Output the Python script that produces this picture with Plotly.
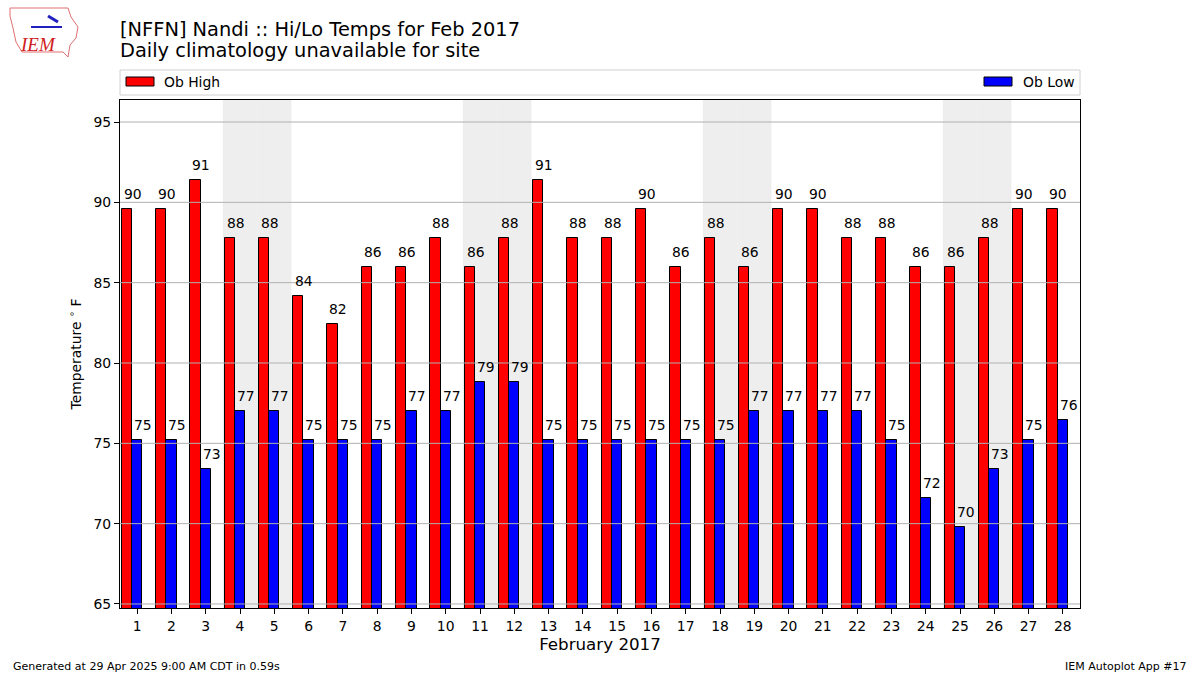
import plotly.graph_objects as go

# ---- data ----
days = list(range(1, 29))
ob_high = [89.6, 89.6, 91.4, 87.8, 87.8, 84.2, 82.4, 86.0, 86.0, 87.8,
           86.0, 87.8, 91.4, 87.8, 87.8, 89.6, 86.0, 87.8, 86.0, 89.6,
           89.6, 87.8, 87.8, 86.0, 86.0, 87.8, 89.6, 89.6]
ob_low = [75.2, 75.2, 73.4, 77.0, 77.0, 75.2, 75.2, 75.2, 77.0, 77.0,
          78.8, 78.8, 75.2, 75.2, 75.2, 75.2, 75.2, 75.2, 77.0, 77.0,
          77.0, 77.0, 75.2, 71.6, 69.8, 73.4, 75.2, 76.46]
weekend_days = [4, 5, 11, 12, 18, 19, 25, 26]
y_ticks = [65, 70, 75, 80, 85, 90, 95]
title_lines = ["[NFFN] Nandi :: Hi/Lo Temps for Feb 2017",
               "Daily climatology unavailable for site"]

FONT = "DejaVu Sans"
W, H = 1200, 675
L, R, T, B = 120, 1080, 100, 608


def px(x):
    return (x - L) / (R - L)


def py(y):
    return (B - y) / (B - T)


fig = go.Figure()
fig.add_trace(go.Bar(x=days, y=ob_high, width=0.3, offset=-0.45,
                     marker=dict(color="#ff0000", line=dict(color="black", width=1)),
                     name="Ob High", showlegend=False))
fig.add_trace(go.Bar(x=days, y=ob_low, width=0.3, offset=-0.15,
                     marker=dict(color="#0000ff", line=dict(color="black", width=1)),
                     name="Ob Low", showlegend=False))

shapes = []
annotations = []
# weekend shading
for d in weekend_days:
    shapes.append(dict(type="rect", xref="x", yref="paper", x0=d - 0.5, x1=d + 0.5,
                       y0=0, y1=1, fillcolor="#eeeeee", line=dict(width=0), layer="below"))
# gridlines above bars
for t in y_ticks:
    shapes.append(dict(type="line", xref="paper", yref="y", x0=0, x1=1, y0=t, y1=t,
                       line=dict(color="#b0b0b0", width=1), layer="above"))

# value labels
for d, h, lo in zip(days, ob_high, ob_low):
    annotations.append(dict(x=d - 0.45, y=h, xref="x", yref="y", text=f"{h:.0f}",
                            showarrow=False, xanchor="left", yanchor="bottom", yshift=5,
                            font=dict(family=FONT, size=13.9, color="black")))
    annotations.append(dict(x=d - 0.15, y=lo, xref="x", yref="y", text=f"{lo:.0f}",
                            showarrow=False, xanchor="left", yanchor="bottom", yshift=5,
                            font=dict(family=FONT, size=13.9, color="black")))

# legend box
shapes.append(dict(type="rect", xref="paper", yref="paper", x0=0, x1=1,
                   y0=py(95), y1=py(70), fillcolor="white",
                   line=dict(color="#d0d0d0", width=1), layer="above"))
shapes.append(dict(type="rect", xref="paper", yref="paper", x0=px(126), x1=px(154),
                   y0=py(86), y1=py(77), fillcolor="#ff0000",
                   line=dict(color="black", width=1), layer="above"))
shapes.append(dict(type="rect", xref="paper", yref="paper", x0=px(984), x1=px(1012),
                   y0=py(86), y1=py(77), fillcolor="#0000ff",
                   line=dict(color="black", width=1), layer="above"))
annotations.append(dict(x=px(162), y=py(81.5), xref="paper", yref="paper", text="Ob High",
                        showarrow=False, xanchor="left", yanchor="middle",
                        font=dict(family=FONT, size=13.9, color="black")))
annotations.append(dict(x=px(1021), y=py(81.5), xref="paper", yref="paper", text="Ob Low",
                        showarrow=False, xanchor="left", yanchor="middle",
                        font=dict(family=FONT, size=13.9, color="black")))

# title (two lines)
for line_text, yc in zip(title_lines, [29, 50.5]):
    annotations.append(dict(x=px(118), y=py(yc), xref="paper", yref="paper",
                            text=line_text, showarrow=False, xanchor="left", yanchor="middle",
                            font=dict(family=FONT, size=19.4, color="black")))
# footer
annotations.append(dict(x=px(11), y=py(666), xref="paper", yref="paper",
                        text="Generated at 29 Apr 2025 9:00 AM CDT in 0.59s",
                        showarrow=False, xanchor="left", yanchor="middle",
                        font=dict(family=FONT, size=11, color="black")))
annotations.append(dict(x=px(1189), y=py(666), xref="paper", yref="paper",
                        text="IEM Autoplot App #17",
                        showarrow=False, xanchor="right", yanchor="middle",
                        font=dict(family=FONT, size=11, color="black")))
# logo approximation
logo_pts = [(10, 8), (68, 8), (71, 17), (78, 27), (76, 38), (70, 45), (68, 57),
            (63, 52), (22, 52), (16, 42), (13, 28), (10, 16)]
path = "M " + " L ".join(f"{px(x)},{py(y)}" for x, y in logo_pts) + " Z"
shapes.append(dict(type="path", xref="paper", yref="paper", path=path,
                   line=dict(color="#e07070", width=1), fillcolor="rgba(0,0,0,0)"))
shapes.append(dict(type="line", xref="paper", yref="paper", x0=px(31), x1=px(62),
                   y0=py(27), y1=py(27), line=dict(color="#2020c0", width=2)))
shapes.append(dict(type="line", xref="paper", yref="paper", x0=px(48), x1=px(58),
                   y0=py(16), y1=py(22), line=dict(color="#2020c0", width=3)))
annotations.append(dict(x=px(38), y=py(45), xref="paper", yref="paper",
                        text="<i>IEM</i>", showarrow=False, xanchor="center", yanchor="middle",
                        font=dict(family="Liberation Serif", size=19, color="#d02020")))

fig.update_layout(
    width=W, height=H,
    margin=dict(l=L, r=W - R, t=T, b=H - B, autoexpand=False),
    paper_bgcolor="white", plot_bgcolor="white",
    barmode="overlay", bargap=0,
    showlegend=False,
    shapes=shapes, annotations=annotations,
    font=dict(family=FONT, size=13.9, color="black"),
)
fig.update_xaxes(range=[0.5, 28.5], tickmode="array", tickvals=days,
                 ticktext=[str(d) for d in days], ticks="outside", ticklen=5,
                 tickcolor="black", showgrid=False, zeroline=False,
                 showline=True, mirror=True, linecolor="black", linewidth=1,
                 tickfont=dict(family=FONT, size=13.9),
                 title=dict(text="February 2017", font=dict(family=FONT, size=16.7), standoff=3))
fig.update_yaxes(range=[64.75, 96.37], tickmode="array", tickvals=y_ticks,
                 ticks="outside", ticklen=5, tickcolor="black", showgrid=False,
                 zeroline=False, showline=True, mirror=True, linecolor="black", linewidth=1,
                 tickfont=dict(family=FONT, size=13.9),
                 title=dict(text="Temperature <sup>∘</sup> F", font=dict(family=FONT, size=13.9), standoff=8))

fig.write_html("out.html", config={"displayModeBar": False},
               post_script="document.body.style.margin='0';document.body.style.padding='0';")
